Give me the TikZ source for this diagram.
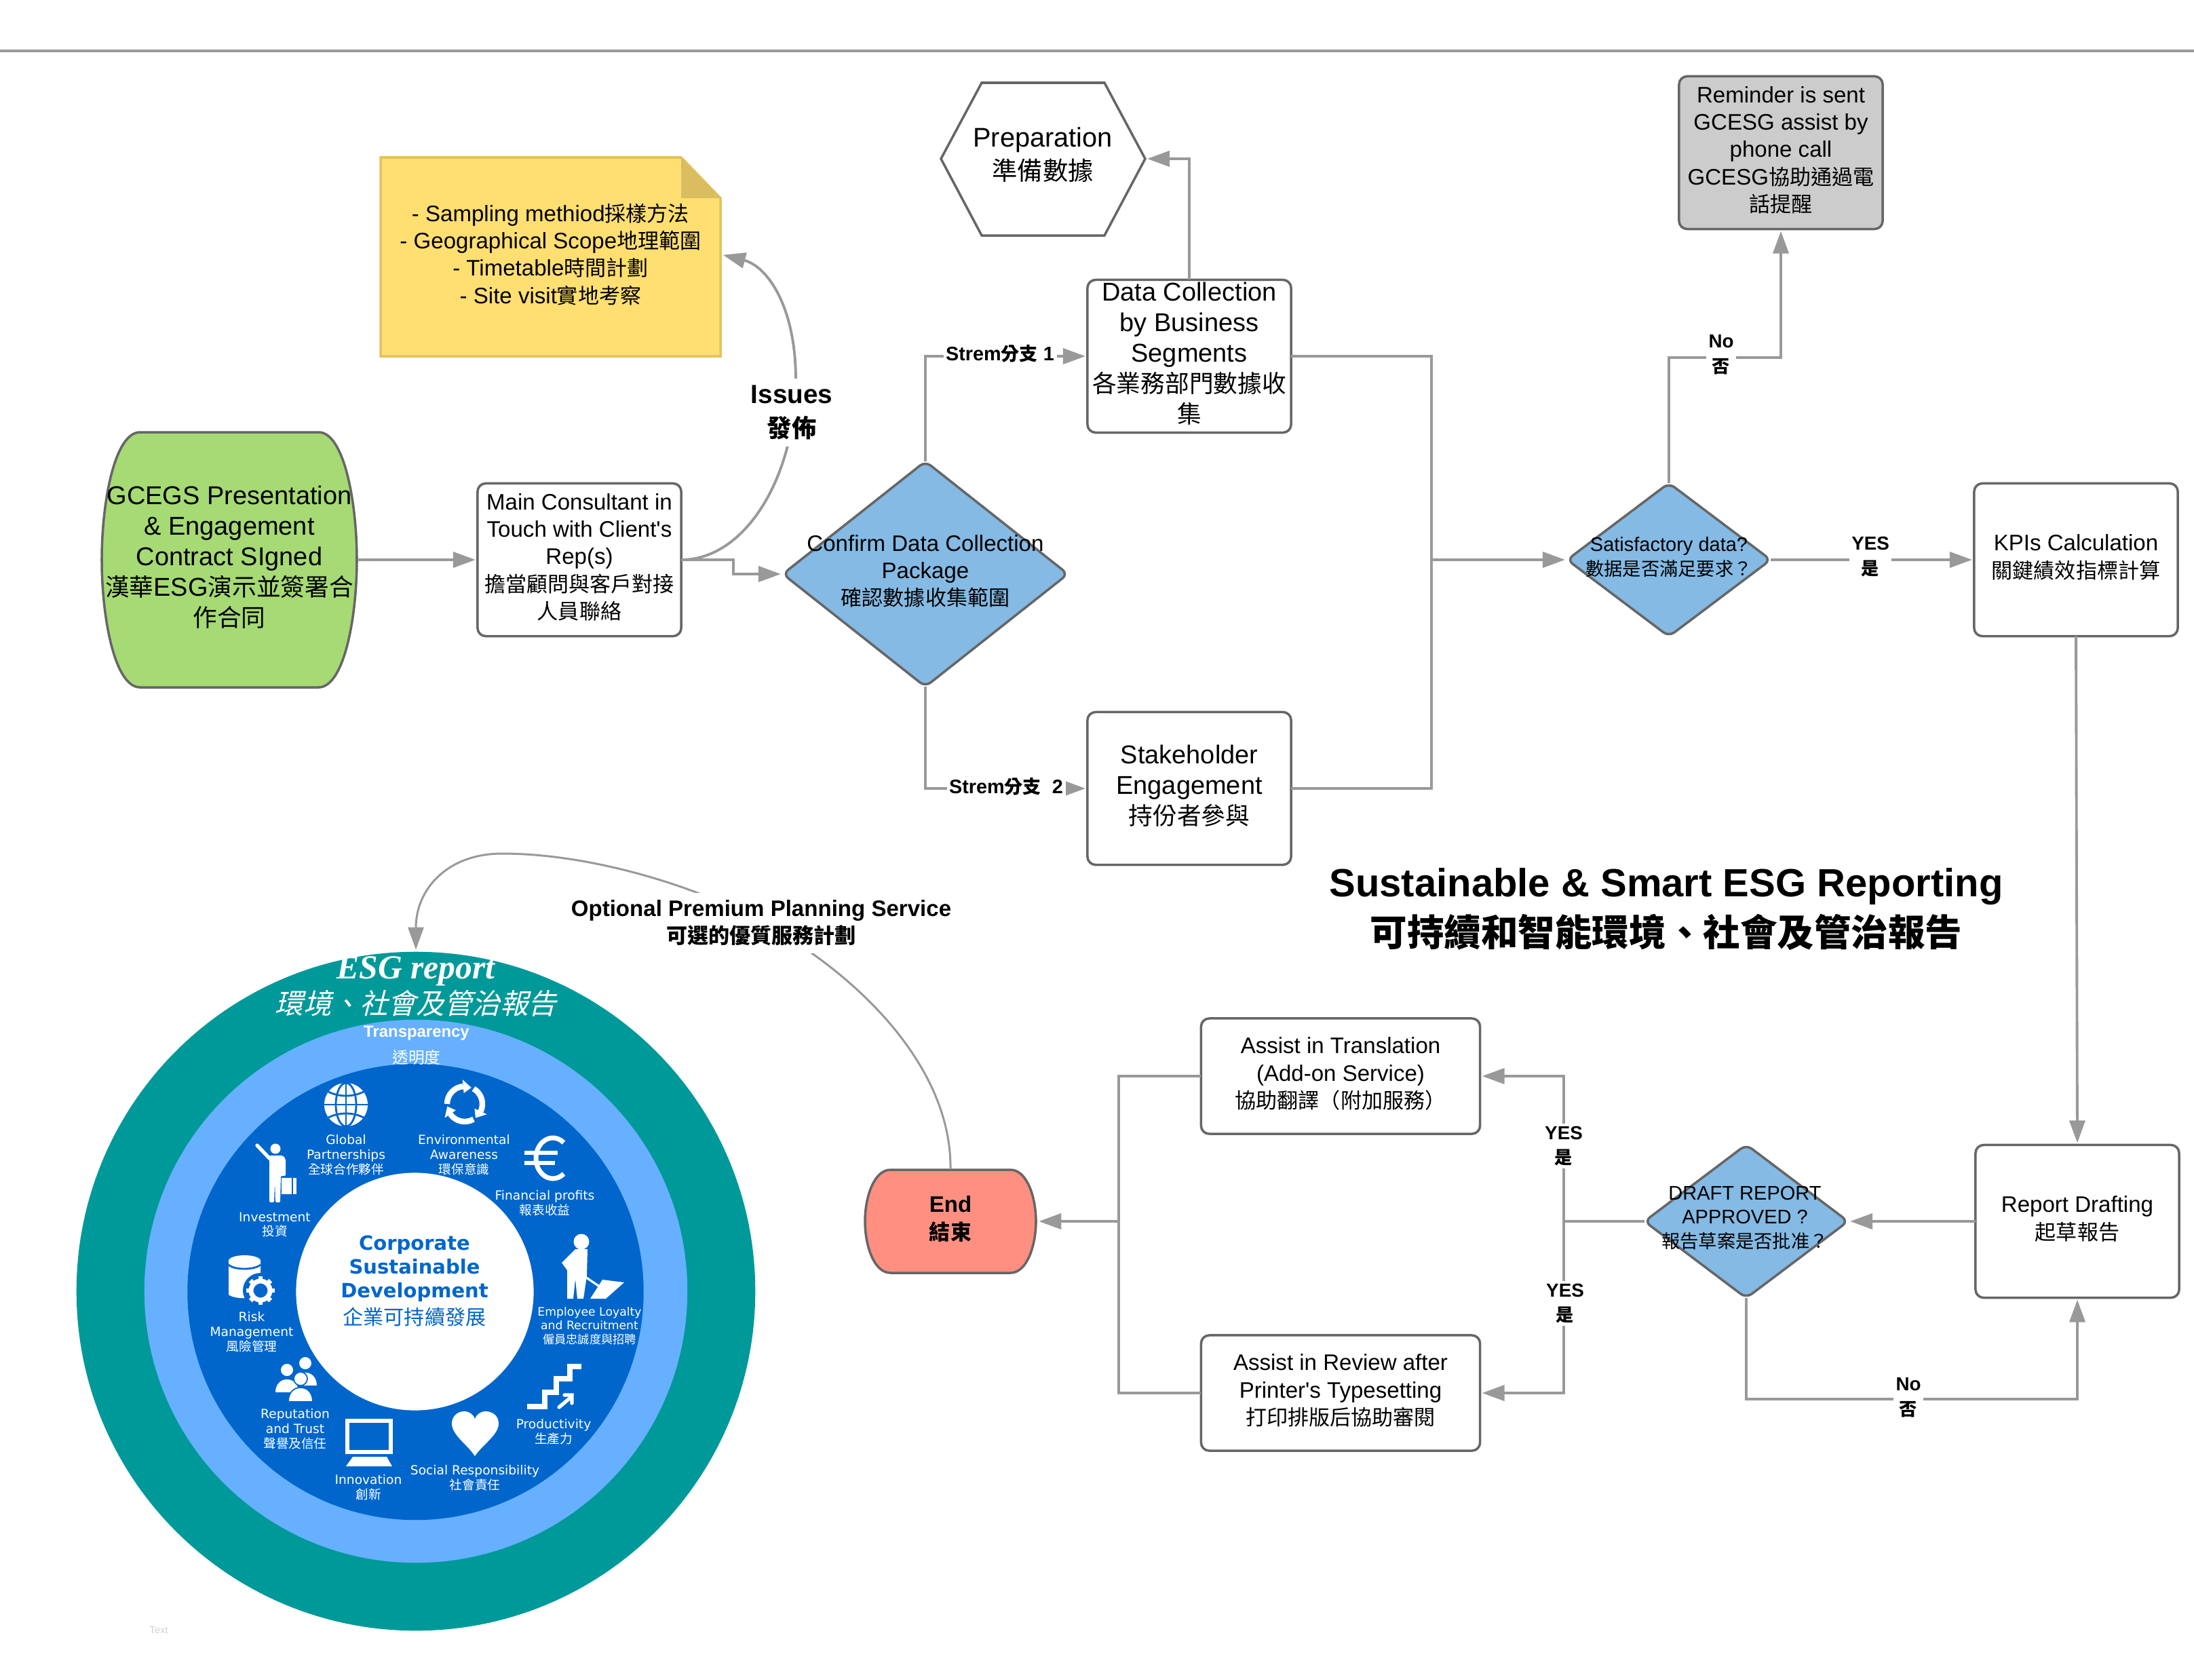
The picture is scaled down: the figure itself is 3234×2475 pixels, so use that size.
\documentclass[tikz,border=0pt]{standalone}
\usepackage{fontspec}
\setmainfont{Liberation Sans}
\newfontfamily\cjk[Scale=0.94]{Noto Sans CJK TC}
\newfontfamily\cjkring{Noto Sans CJK TC}
\newfontfamily\cjkslant[FakeSlant=0.25]{Noto Sans CJK TC}
\newfontfamily\ringfont{DejaVu Sans}
\newfontfamily\esgfont{Liberation Serif}
\newcommand{\tc}[1]{{\cjk #1}}
\newcommand{\tcr}[1]{{\cjkring #1}}
\usetikzlibrary{arrows.meta,shapes.geometric}

\definecolor{linegray}{HTML}{999999}
\definecolor{edgegray}{HTML}{666666}
\definecolor{flowblue}{HTML}{84BAE4}
\definecolor{startgreen}{HTML}{A6DA74}
\definecolor{endred}{HTML}{FF8F80}
\definecolor{notefill}{HTML}{FFDF71}
\definecolor{noteedge}{HTML}{E3C25F}
\definecolor{notefold}{HTML}{D9BD5F}
\definecolor{ringteal}{HTML}{009999}
\definecolor{ringlight}{HTML}{66B0FF}
\definecolor{ringdark}{HTML}{0066CC}

\tikzset{
	tsize/.style 2 args={font=\fontsize{#1}{#2}\selectfont},
	lifted/.style={execute at end node={\rule[-1mm]{0pt}{1mm}}},
	flowbox/.style={draw=edgegray,line width=1pt,rounded corners=1.2mm,fill=white,minimum width=30mm,minimum height=22.5mm,align=center,inner sep=0pt,outer sep=0pt,tsize={9.4}{11.4},lifted},
	flowdia/.style={diamond,draw=edgegray,line width=1pt,rounded corners=1mm,fill=flowblue,inner sep=0pt,outer sep=0pt},
	flowtext/.style={align=center,inner sep=0pt,tsize={9.4}{11.4}},
	flowline/.style={draw=linegray,line width=1.1pt,->,>={Triangle[length=3.3mm,width=2.3mm]},shorten >=0.3mm},
	plainline/.style={draw=linegray,line width=1.1pt},
	steplabel/.style={align=center,inner sep=1pt,fill=white,font=\fontsize{7.9}{10.5}\selectfont\bfseries},
	ringdisc/.style={circle,inner sep=0pt,outer sep=0pt},
	ringlabel/.style={align=center,inner sep=0pt,text=white,font=\ringfont\fontsize{5.3}{6.2}\selectfont},
	icon/.style={fill=white,draw=none},
	iconline/.style={draw=white,line cap=round},
	iconcut/.style={draw=ringdark,line width=0.8pt},
}

\newcommand{\capsule}[5]{%
	\draw[draw=edgegray,line width=1pt,fill=#5,shift={(#1,#2)},xscale=#3,yscale=#4] (0,-1) -- (0.7,-1) .. controls (0.9,-1) and (1,-0.45) .. (1,0) .. controls (1,0.45) and (0.9,1) .. (0.7,1) -- (-0.7,1) .. controls (-0.9,1) and (-1,0.45) .. (-1,0) .. controls (-1,-0.45) and (-0.9,-1) .. (-0.7,-1) -- cycle;}

\begin{document}
\begin{tikzpicture}[x=0.01cm,y=-0.01cm]

	\useasboundingbox (0,0) rectangle (3234,2475);
	\draw[draw=linegray,line width=0.9pt] (0,75)--(3234,75); %top rule

	%shapes of the flow
	\capsule{338}{825}{188}{188}{startgreen}
	\node[flowtext,tsize={10.8}{12.8},minimum width=37.6mm,minimum height=37.6mm,lifted] (start) at (338,825) {GCEGS Presentation\\\& Engagement\\Contract SIgned\\\tc{漢華}ESG\tc{演示並簽署合}\\\tc{作合同}};
	\node[flowbox] (main) at (854,825) {Main Consultant in\\Touch with Client\textquotesingle s\\Rep(s)\\\tc{擔當顧問與客戶對接}\\\tc{人員聯絡}};

	\fill[fill=notefill,draw=noteedge,line width=1pt] (561,232)--(1004,232)--(1062,292)--(1062,525)--(561,525)--cycle;
	\fill[fill=notefold] (1004,232)--(1004,292)--(1062,292)--cycle;
	\node[flowtext,minimum width=50.1mm,minimum height=20mm] (note) at (811.5,375) {- Sampling methiod\tc{採樣方法}\\- Geographical Scope\tc{地理範圍}\\- Timetable\tc{時間計劃}\\- Site visit\tc{實地考察}};

	\node[flowdia,minimum width=42mm,minimum height=33.2mm] (confirm) at (1364,846) {};
	\node[flowtext] (confirmtext) at (1364,842) {Confirm Data Collection\\Package\\\tc{確認數據收集範圍}};

	\draw[draw=edgegray,line width=1pt,fill=white] (1387,234)--(1447,122)--(1628,122)--(1688,234)--(1628,347)--(1447,347)--cycle;
	\coordinate (prepeast) at (1688,234);
	\node[flowtext,tsize={11.3}{14}] (prep) at (1537,228) {Preparation\\\tc{準備數據}};

	\node[flowbox,tsize={10.8}{12.8}] (data) at (1753,525) {Data Collection\\by Business\\Segments\\\tc{各業務部門數據收}\\\tc{集}};
	\node[flowbox,tsize={10.8}{12.8}] (stake) at (1753,1162) {Stakeholder\\Engagement\\\tc{持份者參與}};

	\node[flowdia,minimum width=30mm,minimum height=22.6mm] (sat) at (2460,825) {};
	\node[flowtext,tsize={8.25}{10.2}] (sattext) at (2460,821) {Satisfactory data?\\\tc{數据是否滿足要求？}};
	\node[flowbox,fill=gray!40,tsize={9.4}{11.4}] (reminder) at (2625,225) {Reminder is sent\\GCESG assist by\\phone call\\GCESG\tc{協助通過電}\\\tc{話提醒}};
	\node[flowbox] (kpi) at (3060,825) {KPIs Calculation\\\tc{關鍵績效指標計算}};

	\node[flowbox] (report) at (3062,1800) {Report Drafting\\\tc{起草報告}};
	\node[flowdia,minimum width=30mm,minimum height=22.6mm] (draft) at (2574,1800) {};
	\node[flowtext,tsize={8.25}{10}] (drafttext) at (2572,1795) {DRAFT REPORT\\APPROVED ?\\\tc{報告草案是否批准？}};
	\node[flowbox,minimum width=41.1mm,minimum height=17mm] (trans) at (1976,1586) {Assist in Translation\\(Add-on Service)\\\tc{協助翻譯（附加服務）}};
	\node[flowbox,minimum width=41.1mm,minimum height=17mm] (review) at (1976,2053) {Assist in Review after\\Printer\textquotesingle s Typesetting\\\tc{打印排版后協助審閱}};
	\capsule{1401}{1800}{126}{76}{endred}
	\node[flowtext,font=\fontsize{9.4}{11.4}\selectfont\bfseries,minimum width=25.3mm,minimum height=15.2mm,lifted] (finish) at (1401,1800) {End\\\tc{結束}};

	%join points
	\coordinate (joinc) at (2110,825);
	\coordinate (joind) at (2305,1800);
	\coordinate (joine) at (1649,1800);

	%connectors
	\draw[flowline] (start.east)--(main.west);
	\draw[flowline] (main.east)--++(77,0) |- (confirm.west);
	\draw[flowline] (main.east) .. controls (1100,825) and (1173,700) .. (1173,560) .. controls (1173,450) and (1130,392) .. (note.east);
	\draw[flowline] (confirm.north) |- (data.west);
	\draw[flowline] (confirm.south) |- (stake.west);
	\draw[flowline] (data.north) |- (prepeast);
	\draw[plainline] (data.east) -| (joinc);
	\draw[plainline] (stake.east) -| (joinc);
	\draw[flowline] (joinc)--(sat.west);
	\draw[flowline] (sat.north)--++(0,-185) -| (reminder.south);
	\draw[flowline] (sat.east)--(kpi.west);
	\draw[flowline] (kpi.south)--(report.north);
	\draw[flowline] (report.west)--(draft.east);
	\draw[plainline] (draft.west)--(joind);
	\draw[flowline] (joind) |- (trans.east);
	\draw[flowline] (joind) |- (review.east);
	\draw[plainline] (trans.west) -| (joine);
	\draw[plainline] (review.west) -| (joine);
	\draw[flowline] (joine)--(finish.east);
	\draw[flowline] (draft.south)--++(0,149) -| (report.south);

	%rings
	\node[ringdisc,fill=ringteal,minimum size=100mm] (outerring) at (613,1903) {};
	\node[ringdisc,fill=ringlight,minimum size=80mm] (midring) at (613,1903) {};
	\node[ringdisc,fill=ringdark,minimum size=67.2mm] (innerring) at (612.5,1904) {};
	\node[ringdisc,fill=white,minimum size=35mm] (corering) at (611.5,1903.5) {};
	\draw[flowline,line width=0.85pt] (finish.north) .. controls (1403,1570) and (1260,1430) .. (1110,1352) .. controls (1020,1305) and (870,1258) .. (740,1258) .. controls (660,1258) and (613,1310) .. (outerring.north);

	%labels on the connectors
	\node[steplabel,font=\fontsize{11}{14}\selectfont\bfseries,inner sep=3pt] (issues) at (1167,608) {Issues\\\tc{發佈}};
	\node[steplabel,font=\fontsize{8.2}{10.5}\selectfont\bfseries] (streamone) at (1474,521) {Strem\tc{分支} 1};
	\node[steplabel,font=\fontsize{8.2}{10.5}\selectfont\bfseries] (streamtwo) at (1483,1159) {Strem\tc{分支}~~2};
	\node[steplabel] (satno) at (2537,523) {No\\\tc{否}};
	\node[steplabel] (satyes) at (2757,821) {YES\\\tc{是}};
	\node[steplabel] (transyes) at (2305,1689) {YES\\\tc{是}};
	\node[steplabel] (reviewyes) at (2307,1921) {YES\\\tc{是}};
	\node[steplabel] (draftno) at (2813,2060) {No\\\tc{否}};
	\node[steplabel,font=\fontsize{9.4}{11.6}\selectfont\bfseries,inner sep=3pt] (optional) at (1122,1360) {Optional Premium Planning Service\\\tc{可選的優質服務計劃}};

	%title
	\node[flowtext,font=\fontsize{16.5}{20.5}\selectfont\bfseries] (title) at (2456,1340) {Sustainable \& Smart ESG Reporting\\\tc{可持續和智能環境、社會及管治報告}};

	%texts of the rings
	\node[ringlabel,font=\esgfont\fontsize{14.1}{16}\selectfont\bfseries\itshape] (esg) at (613,1431) {ESG report};
	\node[ringlabel,font=\cjkslant\fontsize{11.8}{14}\selectfont] (esgtc) at (613,1479) {環境、社會及管治報告};
	\node[ringlabel,font=\fontsize{6.8}{10}\selectfont\bfseries] (transp) at (614,1523) {Transparency};
	\node[ringlabel,font=\fontsize{7.2}{10}\selectfont] (transptc) at (614,1558) {\tc{透明度}};
	\node[ringlabel,text=ringdark,font=\ringfont\fontsize{8.25}{10}\selectfont\bfseries] (core) at (611,1870) {Corporate\\Sustainable\\Development};
	\node[ringlabel,text=ringdark,font=\fontsize{9.1}{10}\selectfont] (coretc) at (611,1941) {\tc{企業可持續發展}};
	\node[ringlabel] (lblglobal) at (510,1702) {Global\\Partnerships\\\tcr{全球合作夥伴}};
	\node[ringlabel] (lblenv) at (684,1702) {Environmental\\Awareness\\\tcr{環保意識}};
	\node[ringlabel] (lblfin) at (803,1773) {Financial profits\\\tcr{報表收益}};
	\node[ringlabel,font=\ringfont\fontsize{4.9}{5.9}\selectfont] (lblemp) at (869,1954) {Employee Loyalty\\and Recruitment\\\tcr{僱員忠誠度與招聘}};
	\node[ringlabel] (lblprod) at (816,2110) {Productivity\\\tcr{生產力}};
	\node[ringlabel] (lblsoc) at (700,2178) {Social Responsibility\\\tcr{社會責任}};
	\node[ringlabel] (lblinno) at (543,2192) {Innovation\\\tcr{創新}};
	\node[ringlabel] (lblrep) at (435,2106) {Reputation\\and Trust\\\tcr{聲譽及信任}};
	\node[ringlabel] (lblrisk) at (371,1963) {Risk\\Management\\\tcr{風險管理}};
	\node[ringlabel] (lblinv) at (405,1805) {Investment\\\tcr{投資}};
	\node[ringlabel,text=gray!35,font=\fontsize{4.2}{5}\selectfont] (faint) at (234,2402) {Text};

	%globe
	\fill[icon] (510,1628) circle[radius=32];
	\draw[iconcut] (478,1628)--(542,1628) (510,1596)--(510,1660);
	\draw[iconcut] (510,1628) circle[x radius=15,y radius=32];
	\draw[iconcut] (484,1609) .. controls (500,1617) and (520,1617) .. (536,1609);
	\draw[iconcut] (484,1647) .. controls (500,1639) and (520,1639) .. (536,1647);

	%recycling arrows
	\begin{scope}[shift={(685,1627)}]
		\foreach \a in {-60,60,180}{
			\draw[iconline,line cap=butt,line width=2.4pt] (\a:26) arc[start angle=\a,delta angle=85,radius=26];
			\fill[icon] (\a+85:36)--(\a+85:16)--(\a+112:26)--cycle;
		}
	\end{scope}

	%euro
	\draw[draw=white,line width=2pt] (831,1684) arc[start angle=-50,end angle=-310,x radius=25,y radius=30];
	\draw[draw=white,line width=1.8pt] (773,1699)--(822,1699) (773,1714)--(818,1714);

	%person with a suitcase
	\fill[icon] (406,1693) circle[radius=7.5];
	\draw[iconline,line width=1.5pt] (379,1688)--(398,1708);
	\fill[icon,rounded corners=0.2mm] (397,1703)--(417,1703)--(421,1708)--(421,1733)--(414,1733)--(413,1772)--(406,1772)--(405,1742)--(404,1772)--(397,1772)--cycle;
	\fill[icon] (415,1736) rectangle (437,1760);
	\draw[iconcut] (431,1736)--(431,1760);

	%cylinder with a gear
	\fill[icon] (337,1858)--(337,1908) .. controls (345,1915) and (375,1915) .. (384,1908)--(384,1858)--cycle;
	\fill[icon] (360.5,1858) circle[x radius=23.5,y radius=8];
	\draw[iconcut] (337,1864) .. controls (345,1872) and (375,1872) .. (384,1864);
	\fill[ringdark] (384,1902) circle[radius=26];
	\draw[draw=white,line width=2pt] (384,1902) circle[radius=14];
	\foreach \a in {0,45,...,315}{
		\draw[draw=white,line width=1.9pt] (384,1902)++(\a:14)--++(\a:7);
	}

	%people
	\foreach \hx/\hy in {450/2009,423/2019,443/2032}{
		\begin{scope}[shift={(\hx,\hy)}]
			\fill[icon] (0,0) circle[radius=10];
			\fill[icon,draw=ringdark,line width=0.5pt] (-18,34) .. controls (-18,20) and (-10,13) .. (0,13) .. controls (10,13) and (18,20) .. (18,34)--cycle;
			\fill[icon,draw=ringdark,line width=0.5pt] (0,0) circle[radius=10];
		\end{scope}
	}

	%monitor
	\draw[draw=white,line width=1.5pt] (512,2094) rectangle (576,2140);
	\fill[icon] (520,2147)--(570,2147)--(578,2161)--(510,2161)--cycle;

	%heart
	\fill[icon] (700,2146) .. controls (690,2130) and (666,2115) .. (666,2098) .. controls (666,2086) and (676,2080) .. (684,2080) .. controls (692,2080) and (698,2085) .. (700,2091) .. controls (702,2085) and (708,2080) .. (716,2080) .. controls (725,2080) and (735,2086) .. (735,2098) .. controls (735,2115) and (710,2130) .. (700,2146)--cycle;

	%stairs
	\draw[draw=white,line width=2.2pt] (777,2073)--(803,2073)--(803,2052)--(820,2052)--(820,2032)--(840,2032)--(840,2014)--(857,2014);
	\draw[iconline,line width=1.5pt] (824,2074)--(843,2058) (832,2056)--(843,2056)--(843,2068);

	%person with a shovel
	\fill[icon] (857,1830) circle[radius=11.5];
	\fill[icon] (848,1841)--(866,1841)--(865,1880)--(860,1914)--(851,1914)--(848,1885)--(845,1914)--(836,1914)--(836,1872)--(828,1861)--cycle;
	\draw[draw=white,line width=0.9pt] (857,1878)--(888,1899);
	\fill[icon] (888,1886)--(920,1890)--(893,1914)--(870,1914)--cycle;

\end{tikzpicture}
\end{document}
